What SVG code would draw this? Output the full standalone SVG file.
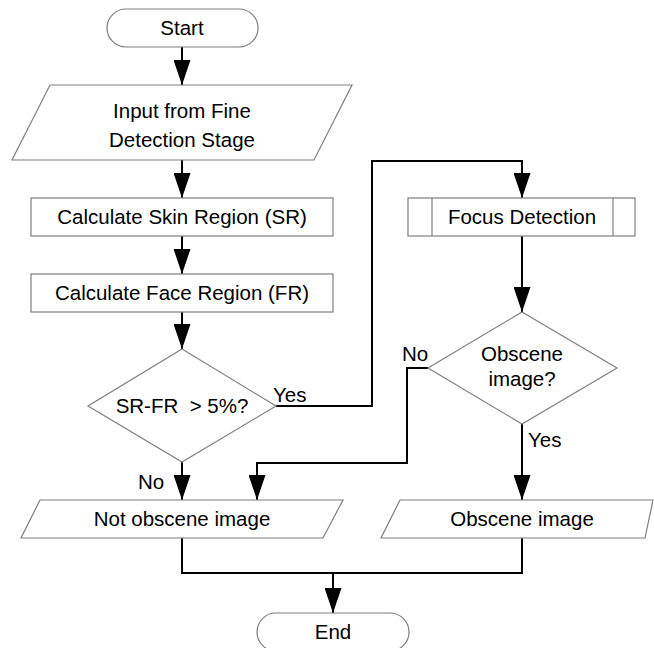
<svg xmlns="http://www.w3.org/2000/svg" width="654" height="648" viewBox="0 0 654 648">
<style>
.shape{fill:#fff;stroke:#7f7f7f;stroke-width:1.2}
.t{font-family:"Liberation Sans",Arial,sans-serif;font-size:20.5px;fill:#000;text-anchor:middle}
.l{font-family:"Liberation Sans",Arial,sans-serif;font-size:20.5px;fill:#000}
.c{fill:none;stroke:#000;stroke-width:2}
</style>
<defs>
<marker id="ah" viewBox="0 0 25 17" refX="25" refY="8.5" markerWidth="25" markerHeight="17" markerUnits="userSpaceOnUse" orient="auto">
<path d="M0,0 L25,8.5 L0,17 z" fill="#000"/>
</marker>
</defs>
<rect width="654" height="648" fill="#fff"/>
<g id="connectors">
<path class="c" d="M182,47 V85" marker-end="url(#ah)"/>
<path class="c" d="M182,160 V198" marker-end="url(#ah)"/>
<path class="c" d="M182,236 V274" marker-end="url(#ah)"/>
<path class="c" d="M182,312 V349" marker-end="url(#ah)"/>
<path class="c" d="M276,406 H372 V161 H522 V198" marker-end="url(#ah)"/>
<path class="c" d="M522,236 V312" marker-end="url(#ah)"/>
<path class="c" d="M428,368 H407 V463 H257 V500" marker-end="url(#ah)"/>
<path class="c" d="M182,462 V500" marker-end="url(#ah)"/>
<path class="c" d="M522,424 V500" marker-end="url(#ah)"/>
<path class="c" d="M182,538 V573 H522 V538"/>
<path class="c" d="M333,573 V613" marker-end="url(#ah)"/>
</g>
<g id="start">
<rect class="shape" x="107" y="9" width="151" height="38" rx="19"/>
<text class="t" x="182" y="35">Start</text>
</g>
<g id="input">
<polygon class="shape" points="50,85 352,85 314,160 12,160"/>
<text class="t" x="182" y="118">Input from Fine</text>
<text class="t" x="182" y="147">Detection Stage</text>
</g>
<g id="skin">
<rect class="shape" x="31" y="198" width="302" height="38"/>
<text class="t" x="182" y="224">Calculate Skin Region (SR)</text>
</g>
<g id="face">
<rect class="shape" x="31" y="274" width="302" height="38"/>
<text class="t" x="182" y="300">Calculate Face Region (FR)</text>
</g>
<g id="decision1">
<polygon class="shape" points="182,349 276,406 182,462 88,406"/>
<text class="t" x="182" y="413" xml:space="preserve">SR-FR  &gt; 5%?</text>
<text class="l" x="273" y="402">Yes</text>
<text class="l" x="138" y="489">No</text>
</g>
<g id="focus">
<rect class="shape" x="408" y="198" width="227" height="38"/>
<line class="shape" x1="432" y1="198" x2="432" y2="236"/>
<line class="shape" x1="613" y1="198" x2="613" y2="236"/>
<text class="t" x="522" y="224">Focus Detection</text>
</g>
<g id="decision2">
<polygon class="shape" points="522,312 617,368 522,424 428,368"/>
<text class="t" x="522" y="361">Obscene</text>
<text class="t" x="522" y="386">image?</text>
<text class="l" x="402" y="361">No</text>
<text class="l" x="528" y="447">Yes</text>
</g>
<g id="notobscene">
<polygon class="shape" points="40,500 343,500 323,538 21,538"/>
<text class="t" x="182" y="526">Not obscene image</text>
</g>
<g id="obscene">
<polygon class="shape" points="400,500 653,500 645,538 381,538"/>
<text class="t" x="522" y="526">Obscene image</text>
</g>
<g id="end">
<rect class="shape" x="257" y="613" width="152" height="38" rx="19"/>
<text class="t" x="333" y="639">End</text>
</g>
</svg>
